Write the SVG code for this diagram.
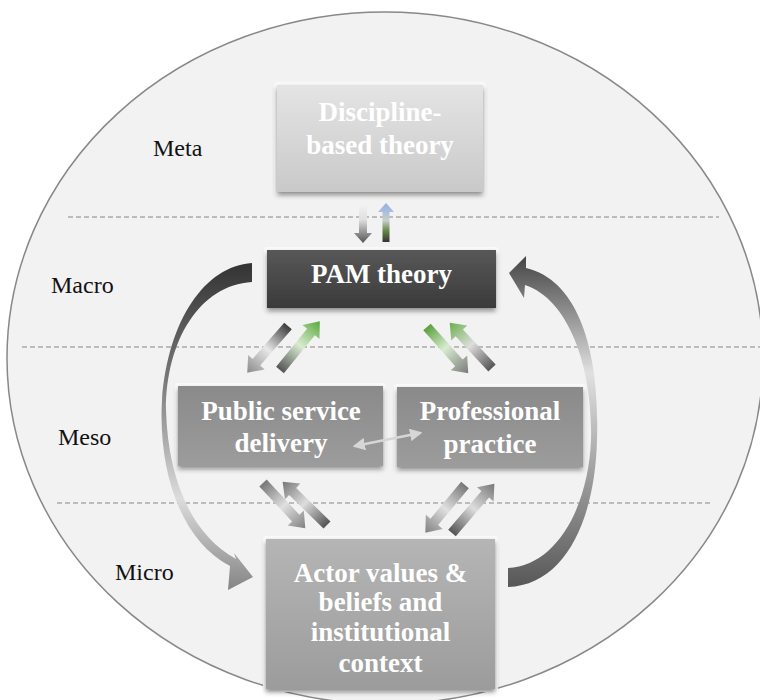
<svg xmlns="http://www.w3.org/2000/svg" width="760" height="700" viewBox="0 0 760 700">
<style>
.lvl{font-family:"Liberation Serif","Times New Roman",serif;font-size:24px;fill:#111}
.bt{font-family:"Liberation Serif","Times New Roman",serif;font-size:27px;font-weight:bold;fill:#fff;text-anchor:middle}
.dash{stroke:#aaa;stroke-width:1.5;stroke-dasharray:5 3;fill:none}
.glow{fill:#fafafa}
</style>
<defs>
<filter id="sh" x="-10%" y="-10%" width="120%" height="130%">
<feDropShadow dx="0" dy="3" stdDeviation="2.5" flood-color="#000" flood-opacity="0.45"/>
</filter>
<linearGradient id="gDisc" x1="0" y1="0" x2="0" y2="1"><stop offset="0" stop-color="#e4e4e4"/><stop offset="1" stop-color="#c9c9c9"/></linearGradient>
<linearGradient id="gPam" x1="0" y1="0" x2="0" y2="1"><stop offset="0" stop-color="#585858"/><stop offset="1" stop-color="#3a3a3a"/></linearGradient>
<linearGradient id="gMid" x1="0" y1="0" x2="0" y2="1"><stop offset="0" stop-color="#8a8a8a"/><stop offset="1" stop-color="#9c9c9c"/></linearGradient>
<linearGradient id="gAct" x1="0" y1="0" x2="0" y2="1"><stop offset="0" stop-color="#b5b5b5"/><stop offset="1" stop-color="#9c9c9c"/></linearGradient>
<linearGradient id="gCurveL" gradientUnits="userSpaceOnUse" x1="0" y1="263" x2="0" y2="590"><stop offset="0" stop-color="#333"/><stop offset="0.35" stop-color="#777"/><stop offset="0.72" stop-color="#dcdcdc"/><stop offset="1" stop-color="#858585"/></linearGradient>
<linearGradient id="gCurveR" gradientUnits="userSpaceOnUse" x1="0" y1="590" x2="0" y2="256"><stop offset="0" stop-color="#555"/><stop offset="0.35" stop-color="#a0a0a0"/><stop offset="0.65" stop-color="#e0e0e0"/><stop offset="1" stop-color="#444"/></linearGradient>
<linearGradient id="gA" x1="0" y1="0" x2="1" y2="0"><stop offset="0" stop-color="#3c3c3c"/><stop offset="0.5" stop-color="#e8e8e8"/><stop offset="1" stop-color="#8a8a8a"/></linearGradient>
<linearGradient id="gB" x1="0" y1="0" x2="1" y2="0"><stop offset="0" stop-color="#555"/><stop offset="0.5" stop-color="#d8ecd0"/><stop offset="1" stop-color="#5aa83c"/></linearGradient>
<linearGradient id="gC" x1="0" y1="0" x2="1" y2="0"><stop offset="0" stop-color="#5aa03c"/><stop offset="0.45" stop-color="#d8ecd0"/><stop offset="1" stop-color="#7a7a7a"/></linearGradient>
<linearGradient id="gD" x1="0" y1="0" x2="1" y2="0"><stop offset="0" stop-color="#555"/><stop offset="0.5" stop-color="#ddd"/><stop offset="1" stop-color="#6ab04c"/></linearGradient>
<linearGradient id="gE" x1="0" y1="0" x2="1" y2="0"><stop offset="0" stop-color="#777"/><stop offset="0.5" stop-color="#e0e0e0"/><stop offset="1" stop-color="#808080"/></linearGradient>
<linearGradient id="gF" x1="0" y1="0" x2="1" y2="0"><stop offset="0" stop-color="#555"/><stop offset="0.5" stop-color="#ddd"/><stop offset="1" stop-color="#777"/></linearGradient>
<linearGradient id="gDown" x1="0" y1="0" x2="1" y2="0"><stop offset="0" stop-color="#f2f2f2"/><stop offset="0.4" stop-color="#e0e0e0"/><stop offset="1" stop-color="#555"/></linearGradient>
<linearGradient id="gUp" x1="0" y1="0" x2="1" y2="0"><stop offset="0" stop-color="#333"/><stop offset="0.3" stop-color="#6a8a4c"/><stop offset="0.55" stop-color="#c8d0c8"/><stop offset="0.8" stop-color="#a8bce0"/><stop offset="1" stop-color="#98b0d8"/></linearGradient>
<marker id="dh" viewBox="0 0 10 10" refX="8" refY="5" markerWidth="5" markerHeight="5" orient="auto-start-reverse"><path d="M0,0 L10,5 L0,10 Z" fill="#d6d6d6"/></marker>
</defs>

<g id="background">
<ellipse cx="385" cy="358" rx="378" ry="346" fill="#f2f2f2" stroke="#888" stroke-width="1.5"/>
<line class="dash" x1="68" y1="217" x2="719" y2="217"/>
<line class="dash" x1="22" y1="347" x2="760" y2="347"/>
<line class="dash" x1="57" y1="503" x2="713" y2="503"/>
</g>

<g id="levels">
<text class="lvl" x="153" y="156">Meta</text>
<text class="lvl" x="51" y="293">Macro</text>
<text class="lvl" x="58" y="445">Meso</text>
<text class="lvl" x="115" y="580">Micro</text>
</g>

<g id="node-discipline">
<rect class="glow" x="274" y="82" width="212" height="113" rx="4"/>
<rect x="277" y="85" width="206" height="107" fill="url(#gDisc)" filter="url(#sh)"/>
<text class="bt" x="380" y="121">Discipline-</text>
<text class="bt" x="380" y="154">based theory</text>
</g>

<g id="node-pam">
<rect class="glow" x="264" y="247" width="235" height="64" rx="4"/>
<rect x="267" y="250" width="229" height="58" fill="url(#gPam)" filter="url(#sh)"/>
<text class="bt" x="381.5" y="283">PAM theory</text>
</g>

<g id="node-psd">
<rect class="glow" x="175" y="383" width="211" height="86" rx="4"/>
<rect x="178" y="386" width="205" height="80" fill="url(#gMid)" filter="url(#sh)"/>
<text class="bt" x="281" y="420">Public service</text>
<text class="bt" x="281" y="452">delivery</text>
</g>

<g id="node-pp">
<rect class="glow" x="394" y="384" width="192" height="86" rx="4"/>
<rect x="397" y="387" width="186" height="80" fill="url(#gMid)" filter="url(#sh)"/>
<text class="bt" x="490" y="420">Professional</text>
<text class="bt" x="490" y="453">practice</text>
</g>

<g id="node-actor">
<rect class="glow" x="263" y="536" width="235" height="156" rx="4"/>
<rect x="266" y="539" width="229" height="150" fill="url(#gAct)" filter="url(#sh)"/>
<text class="bt" x="380.5" y="582">Actor values &amp;</text>
<text class="bt" x="380.5" y="611">beliefs and</text>
<text class="bt" x="380.5" y="641">institutional</text>
<text class="bt" x="380.5" y="672">context</text>
</g>

<g id="connectors">
<path d="M252,263 C205,266 168,320 162,400 C158,470 180,540 230,566 L228,590 L253,577 L234,553 L236,559 C192,535 168,480 166,410 C166,340 200,285 252,282 Z" fill="url(#gCurveL)"/>
<path d="M508,568 C555,566 588,510 591,440 C593,370 570,300 525,285 L524,298 L509,273 L526,256 L526,268 C578,280 600,350 597,440 C595,520 565,585 508,587 Z" fill="url(#gCurveR)"/>
<path transform="translate(363,204) rotate(90)" d="M0,-4 L29,-4 L29,-9 L39,0 L29,9 L29,4 L0,4 Z" fill="url(#gDown)"/>
<path transform="translate(386,242) rotate(-90)" d="M0,-3.5 L30,-3.5 L30,-8 L39,0 L30,8 L30,3.5 L0,3.5 Z" fill="url(#gUp)"/>
<path transform="translate(288,326) rotate(131.1)" d="M0,-5 L48,-5 L48,-11 L62,0 L48,11 L48,5 L0,5 Z" fill="url(#gA)"/>
<path transform="translate(280,370) rotate(-50.8)" d="M0,-5 L49,-5 L49,-11 L63,0 L49,11 L49,5 L0,5 Z" fill="url(#gB)"/>
<path transform="translate(427,327) rotate(48.3)" d="M0,-5 L48,-5 L48,-11 L62,0 L48,11 L48,5 L0,5 Z" fill="url(#gC)"/>
<path transform="translate(492,368) rotate(-133)" d="M0,-5 L48,-5 L48,-11 L62,0 L48,11 L48,5 L0,5 Z" fill="url(#gD)"/>
<path transform="translate(263,483) rotate(47)" d="M0,-5 L48,-5 L48,-11 L62,0 L48,11 L48,5 L0,5 Z" fill="url(#gE)"/>
<path transform="translate(327,525) rotate(-135.7)" d="M0,-5 L48,-5 L48,-11 L62,0 L48,11 L48,5 L0,5 Z" fill="url(#gF)"/>
<path transform="translate(465,485) rotate(129.8)" d="M0,-5 L48,-5 L48,-11 L62,0 L48,11 L48,5 L0,5 Z" fill="url(#gE)"/>
<path transform="translate(452,533) rotate(-49.3)" d="M0,-5 L51,-5 L51,-11 L65,0 L51,11 L51,5 L0,5 Z" fill="url(#gF)"/>
<line x1="355" y1="446" x2="420" y2="433" stroke="#d6d6d6" stroke-width="2.5" marker-start="url(#dh)" marker-end="url(#dh)"/>
</g>
</svg>
